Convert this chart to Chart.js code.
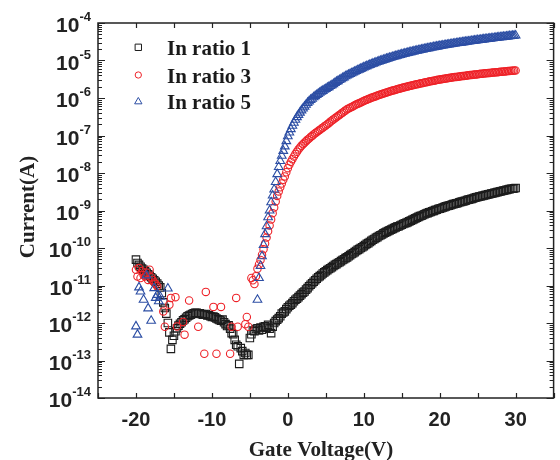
<!DOCTYPE html>
<html>
<head>
<meta charset="utf-8">
<script src="https://cdn.jsdelivr.net/npm/chart.js@4.4.1/dist/chart.umd.min.js"></script>
<style>
  body { margin: 0; background: #fff; }
  #wrap { width: 560px; height: 460px; }
</style>
</head>
<body>
<div id="wrap"><canvas id="chart"></canvas></div>
<script>
const gateVoltage = [
  -20, -19.8, -19.6, -19.4, -19.2, -19, -18.8, -18.6, -18.4, -18.2,
  -18, -17.8, -17.6, -17.4, -17.2, -17, -16.8, -16.6, -16.4, -16.2,
  -16, -15.8, -15.6, -15.4, -15.2, -15, -14.8, -14.6, -14.4, -14.2,
  -14, -13.8, -13.6, -13.4, -13.2, -13, -12.8, -12.6, -12.4, -12.2,
  -12, -11.8, -11.6, -11.4, -11.2, -11, -10.8, -10.6, -10.4, -10.2,
  -10, -9.8, -9.6, -9.4, -9.2, -9, -8.8, -8.6, -8.4, -8.2,
  -8, -7.8, -7.6, -7.4, -7.2, -7, -6.8, -6.6, -6.4, -6.2,
  -6, -5.8, -5.6, -5.4, -5.2, -5, -4.8, -4.6, -4.4, -4.2,
  -4, -3.8, -3.6, -3.4, -3.2, -3, -2.8, -2.6, -2.4, -2.2,
  -2, -1.8, -1.6, -1.4, -1.2, -1, -0.8, -0.6, -0.4, -0.2,
  0, 0.2, 0.4, 0.6, 0.8, 1, 1.2, 1.4, 1.6, 1.8,
  2, 2.2, 2.4, 2.6, 2.8, 3, 3.2, 3.4, 3.6, 3.8,
  4, 4.2, 4.4, 4.6, 4.8, 5, 5.2, 5.4, 5.6, 5.8,
  6, 6.2, 6.4, 6.6, 6.8, 7, 7.2, 7.4, 7.6, 7.8,
  8, 8.2, 8.4, 8.6, 8.8, 9, 9.2, 9.4, 9.6, 9.8,
  10, 10.2, 10.4, 10.6, 10.8, 11, 11.2, 11.4, 11.6, 11.8,
  12, 12.2, 12.4, 12.6, 12.8, 13, 13.2, 13.4, 13.6, 13.8,
  14, 14.2, 14.4, 14.6, 14.8, 15, 15.2, 15.4, 15.6, 15.8,
  16, 16.2, 16.4, 16.6, 16.8, 17, 17.2, 17.4, 17.6, 17.8,
  18, 18.2, 18.4, 18.6, 18.8, 19, 19.2, 19.4, 19.6, 19.8,
  20, 20.2, 20.4, 20.6, 20.8, 21, 21.2, 21.4, 21.6, 21.8,
  22, 22.2, 22.4, 22.6, 22.8, 23, 23.2, 23.4, 23.6, 23.8,
  24, 24.2, 24.4, 24.6, 24.8, 25, 25.2, 25.4, 25.6, 25.8,
  26, 26.2, 26.4, 26.6, 26.8, 27, 27.2, 27.4, 27.6, 27.8,
  28, 28.2, 28.4, 28.6, 28.8, 29, 29.2, 29.4, 29.6, 29.8,
  30
];

// log10 of the current (A); null where no marker is visible
const ratio1 = [
  -10.31, -10.40, -10.45, -10.50, -10.55, -10.58, -10.62, -10.66, -10.70, -10.74,
  -10.78, -10.82, -10.86, -10.90, -10.95, -11.00, -11.05, -11.20, -11.45, -11.60,
  -11.75, -12.00, -12.25, -12.69, -12.45, -12.34, -12.22, -12.14, -12.07, -12.02,
  -11.98, -11.93, -11.90, -11.86, -11.82, -11.80, -11.78, -11.76, -11.74, -11.73,
  -11.73, -11.75, -11.74, -11.76, -11.78, -11.77, -11.76, -11.80, -11.79, -11.82,
  -11.84, -11.83, -11.85, -11.88, -11.90, -11.92, -11.94, -11.91, -11.98, -12.03,
  -12.08, -12.06, -12.15, -12.27, -12.30, -12.45, -12.58, -12.62, -13.09, -12.67,
  -12.75, -12.85, -12.80, -12.85, -12.85, -12.40, -12.30, -12.20, -12.22, -12.16,
  -12.14, -12.20, -12.12, -12.18, -12.10, -12.09, -12.13, -12.05, -12.15, -12.27,
  -12.10, -12.00, -11.95, -11.91, -11.87, -11.82, -11.75, -11.72, -11.69, -11.63,
  -11.58, -11.54, -11.51, -11.47, -11.42, -11.38, -11.35, -11.31, -11.27, -11.23,
  -11.19, -11.16, -11.11, -11.07, -11.02, -10.98, -10.94, -10.90, -10.86, -10.82,
  -10.78, -10.75, -10.72, -10.68, -10.65, -10.62, -10.59, -10.56, -10.54, -10.51,
  -10.48, -10.45, -10.43, -10.40, -10.38, -10.35, -10.32, -10.30, -10.27, -10.25,
  -10.22, -10.19, -10.16, -10.14, -10.11, -10.08, -10.05, -10.03, -10.00, -9.98,
  -9.95, -9.92, -9.89, -9.87, -9.84, -9.81, -9.78, -9.76, -9.73, -9.71,
  -9.68, -9.66, -9.64, -9.61, -9.59, -9.57, -9.55, -9.53, -9.51, -9.49,
  -9.47, -9.45, -9.43, -9.42, -9.40, -9.38, -9.36, -9.34, -9.33, -9.31,
  -9.29, -9.27, -9.25, -9.23, -9.21, -9.19, -9.17, -9.15, -9.14, -9.12,
  -9.10, -9.08, -9.07, -9.05, -9.04, -9.02, -9.01, -8.99, -8.98, -8.96,
  -8.95, -8.94, -8.92, -8.91, -8.89, -8.88, -8.87, -8.86, -8.84, -8.83,
  -8.82, -8.81, -8.80, -8.78, -8.77, -8.76, -8.75, -8.74, -8.72, -8.71,
  -8.70, -8.69, -8.68, -8.66, -8.65, -8.64, -8.63, -8.62, -8.61, -8.60,
  -8.59, -8.58, -8.57, -8.56, -8.55, -8.54, -8.53, -8.52, -8.51, -8.50,
  -8.49, -8.48, -8.47, -8.46, -8.45, -8.44, -8.43, -8.42, -8.42, -8.41,
  -8.40
];

const ratio3 = [
  -10.58, -10.76, -10.53, -10.80, -10.62, -10.72, -10.76, -10.66, -10.85, -10.58,
  -10.78, -10.85, -10.92, -10.96, -11.02, null, null, null, -11.69, -12.10,
  null, null, -11.51, -11.33, null, null, -11.31, -12.09, null, null,
  null, -11.97, -12.31, null, null, -11.40, null, null, null, null,
  null, -12.10, null, null, null, -12.82, -11.17, null, null, null,
  null, -11.57, null, -12.82, null, null, -11.57, null, null, null,
  null, null, -12.82, -12.10, null, null, -11.33, -12.10, null, null,
  null, null, -12.03, -11.84, -12.10, null, -10.80, -10.86, -10.96, -10.75,
  -10.55, -10.44, -10.32, -10.18, -10.03, -9.88, -9.72, -9.55, -9.40, -9.24,
  -9.07, -8.92, -8.76, -8.61, -8.49, -8.38, -8.28, -8.18, -8.09, -7.98,
  -7.87, -7.78, -7.70, -7.63, -7.56, -7.49, -7.43, -7.37, -7.32, -7.27,
  -7.23, -7.19, -7.15, -7.11, -7.08, -7.04, -7.01, -6.97, -6.94, -6.91,
  -6.88, -6.85, -6.82, -6.79, -6.76, -6.73, -6.70, -6.67, -6.63, -6.60,
  -6.57, -6.54, -6.51, -6.48, -6.45, -6.42, -6.39, -6.36, -6.33, -6.30,
  -6.280, -6.259, -6.238, -6.217, -6.196, -6.175, -6.156, -6.137, -6.118, -6.099,
  -6.080, -6.063, -6.046, -6.029, -6.012, -5.995, -5.980, -5.965, -5.950, -5.935,
  -5.920, -5.906, -5.893, -5.879, -5.866, -5.852, -5.840, -5.827, -5.815, -5.802,
  -5.790, -5.779, -5.767, -5.756, -5.744, -5.733, -5.723, -5.712, -5.702, -5.691,
  -5.681, -5.671, -5.662, -5.652, -5.643, -5.633, -5.624, -5.615, -5.606, -5.597,
  -5.588, -5.580, -5.571, -5.563, -5.554, -5.546, -5.538, -5.531, -5.523, -5.516,
  -5.508, -5.501, -5.494, -5.488, -5.481, -5.474, -5.468, -5.462, -5.455, -5.449,
  -5.443, -5.437, -5.432, -5.426, -5.421, -5.415, -5.410, -5.405, -5.399, -5.394,
  -5.389, -5.384, -5.379, -5.375, -5.370, -5.365, -5.361, -5.356, -5.352, -5.347,
  -5.343, -5.339, -5.335, -5.330, -5.326, -5.322, -5.318, -5.314, -5.310, -5.306,
  -5.302, -5.298, -5.294, -5.291, -5.287, -5.283, -5.279, -5.276, -5.272, -5.269,
  -5.265
];

const ratio5 = [
  -12.09, -12.31, -11.05, -11.16, null, -11.38, null, -10.73, -11.61, null,
  -11.94, null, -11.07, -11.33, -11.25, -11.42, -11.30, null, null, null,
  null, -11.08, null, null, null, null, null, null, null, null,
  null, null, null, null, null, null, null, null, null, null,
  null, null, null, null, null, null, null, null, null, null,
  null, null, null, null, null, null, null, null, null, null,
  null, null, null, null, null, null, null, null, null, null,
  null, null, null, null, null, null, null, null, null, null,
  -11.38, -10.80, -10.48, -10.22, -9.92, -9.63, -9.42, -9.18, -9.00, -8.78,
  -8.60, -8.44, -8.24, -8.03, -7.84, -7.68, -7.54, -7.41, -7.29, -7.15,
  -7.02, -6.92, -6.83, -6.74, -6.66, -6.58, -6.51, -6.45, -6.39, -6.33,
  -6.28, -6.23, -6.18, -6.13, -6.09, -6.05, -6.02, -5.98, -5.95, -5.92,
  -5.89, -5.86, -5.83, -5.81, -5.78, -5.76, -5.73, -5.71, -5.68, -5.66,
  -5.63, -5.60, -5.57, -5.55, -5.52, -5.50, -5.47, -5.45, -5.42, -5.40,
  -5.380, -5.360, -5.340, -5.320, -5.300, -5.280, -5.261, -5.242, -5.223, -5.204,
  -5.185, -5.168, -5.151, -5.134, -5.117, -5.100, -5.085, -5.070, -5.055, -5.040,
  -5.025, -5.011, -4.998, -4.984, -4.971, -4.957, -4.945, -4.932, -4.920, -4.907,
  -4.895, -4.884, -4.872, -4.861, -4.849, -4.838, -4.828, -4.817, -4.807, -4.796,
  -4.786, -4.776, -4.767, -4.757, -4.748, -4.738, -4.729, -4.721, -4.712, -4.703,
  -4.694, -4.686, -4.678, -4.669, -4.661, -4.653, -4.645, -4.638, -4.630, -4.623,
  -4.615, -4.608, -4.601, -4.594, -4.587, -4.580, -4.573, -4.567, -4.560, -4.554,
  -4.547, -4.541, -4.535, -4.528, -4.522, -4.516, -4.510, -4.504, -4.499, -4.493,
  -4.487, -4.481, -4.476, -4.470, -4.465, -4.459, -4.454, -4.448, -4.443, -4.437,
  -4.432, -4.427, -4.422, -4.416, -4.411, -4.406, -4.401, -4.396, -4.391, -4.386,
  -4.381, -4.376, -4.371, -4.367, -4.362, -4.357, -4.352, -4.348, -4.343, -4.339,
  -4.334
];

const seriesNames = ["In ratio 1", "In ratio 3", "In ratio 5"];
const xTicks = [-20, -10, 0, 10, 20, 30];
const yExponents = [-14, -13, -12, -11, -10, -9, -8, -7, -6, -5, -4];

const axisColor = "#222";
const serifFont = "bold 21px 'Liberation Serif', 'Times New Roman', serif";

function points(logs) {
  const out = [];
  logs.forEach((v, i) => {
    if (v !== null) out.push({ x: gateVoltage[i], y: Math.pow(10, v) });
  });
  return out;
}

const styles = [
  { pointStyle: "rect", radius: 5.3, color: "#1c1c1c" },
  { pointStyle: "circle", radius: 3.7, color: "#ee2228" },
  { pointStyle: "triangle", radius: 5, color: "#2c4ea4" }
];

const decorations = {
  id: "decorations",
  afterDraw(chart) {
    const { ctx, chartArea: a, scales: { x, y } } = chart;
    ctx.save();

    // frame and inward ticks
    ctx.strokeStyle = axisColor;
    ctx.lineWidth = 1.5;
    ctx.strokeRect(a.left, a.top, a.right - a.left, a.bottom - a.top);
    ctx.lineWidth = 1.2;
    ctx.beginPath();
    for (let v = -25; v <= 35; v += 5) {
      const px = Math.round(x.getPixelForValue(v)) + 0.5;
      ctx.moveTo(px, a.bottom); ctx.lineTo(px, a.bottom - 5);
      ctx.moveTo(px, a.top); ctx.lineTo(px, a.top + 5);
    }
    yExponents.forEach(e => {
      const py = Math.round(y.getPixelForValue(Math.pow(10, e))) + 0.5;
      ctx.moveTo(a.left, py); ctx.lineTo(a.left + 7, py);
      ctx.moveTo(a.right, py); ctx.lineTo(a.right - 7, py);
      if (e < -4) {
        for (let m = 2; m <= 9; m++) {
          const pm = Math.round(y.getPixelForValue(m * Math.pow(10, e))) + 0.5;
          ctx.moveTo(a.left, pm); ctx.lineTo(a.left + 4, pm);
          ctx.moveTo(a.right, pm); ctx.lineTo(a.right - 4, pm);
        }
      }
    });
    ctx.stroke();

    // y tick labels as 10 with a raised exponent
    ctx.fillStyle = axisColor;
    ctx.textBaseline = "alphabetic";
    ctx.textAlign = "right";
    const labelRight = 91;
    yExponents.forEach(e => {
      const py = y.getPixelForValue(Math.pow(10, e));
      const exp = String(e);
      ctx.font = "bold 13px 'Liberation Sans', Arial, sans-serif";
      const ew = ctx.measureText(exp).width;
      ctx.fillText(exp, labelRight, py - 2);
      ctx.font = "bold 21px 'Liberation Sans', Arial, sans-serif";
      ctx.fillText("10", labelRight - ew, py + 9);
    });

    // axis titles
    ctx.font = serifFont;
    ctx.textAlign = "center";
    ctx.fillText("Gate Voltage(V)", 321, 456);
    ctx.save();
    ctx.translate(33.5, 207);
    ctx.rotate(-Math.PI / 2);
    ctx.fillText("Current(A)", 0, 0);
    ctx.restore();

    // legend
    ctx.textAlign = "left";
    const legendY = [47.3, 75, 101.7];
    seriesNames.forEach((name, i) => {
      const s = styles[i];
      ctx.strokeStyle = s.color;
      ctx.fillStyle = "rgba(0,0,0,0)";
      ctx.lineWidth = 1;
      Chart.helpers.drawPoint(ctx, { pointStyle: s.pointStyle, radius: s.radius * 0.85, rotation: 0, borderWidth: 1 }, 138.3, legendY[i]);
      ctx.fillStyle = "#1a1a1a";
      ctx.fillText(name, 167, legendY[i] + 7.5);
    });

    ctx.restore();
  }
};

new Chart(document.getElementById("chart"), {
  type: "scatter",
  data: {
    datasets: [ratio1, ratio3, ratio5].map((logs, i) => ({
      label: seriesNames[i],
      data: points(logs),
      pointStyle: styles[i].pointStyle,
      pointRadius: styles[i].radius,
      pointBorderWidth: 1.1,
      borderColor: styles[i].color,
      backgroundColor: "rgba(0,0,0,0)",
      showLine: false,
      order: 2 - i
    }))
  },
  options: {
    responsive: true,
    maintainAspectRatio: false,
    animation: false,
    events: [],
    layout: {
      padding: { top: 23, right: 3, left: 0, bottom: 0 }
    },
    plugins: {
      legend: { display: false },
      tooltip: { enabled: false }
    },
    scales: {
      x: {
        type: "linear",
        min: -25,
        max: 35,
        afterBuildTicks: s => { s.ticks = xTicks.map(v => ({ value: v })); },
        afterFit: s => { s.height = 62; },
        grid: { display: false, drawTicks: false },
        border: { display: false },
        ticks: {
          font: { family: "'Liberation Sans', Arial, sans-serif", size: 20, weight: "bold" },
          color: axisColor,
          padding: 10,
          maxRotation: 0,
          autoSkip: false
        }
      },
      y: {
        type: "logarithmic",
        min: 1e-14,
        max: 1e-4,
        afterFit: s => { s.width = 98; },
        grid: { display: false, drawTicks: false },
        border: { display: false },
        ticks: { display: false }
      }
    }
  },
  plugins: [decorations]
});
</script>
</body>
</html>
